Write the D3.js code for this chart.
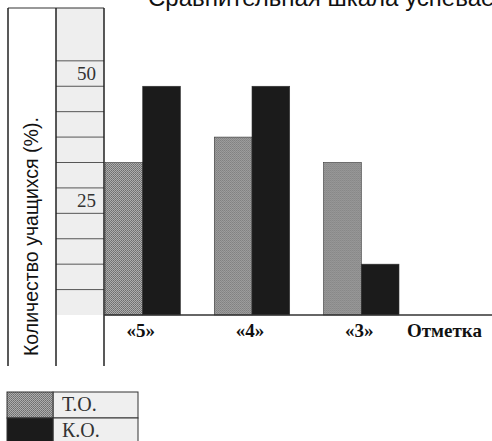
<!DOCTYPE html>
<html>
<head>
<meta charset="utf-8">
<script src="https://cdn.jsdelivr.net/npm/d3@7"></script>
<style>
  body { margin: 0; background: #fff; }
  svg { display: block; }
</style>
</head>
<body>
<svg id="chart" width="492" height="441"></svg>
<script>
// Chart data.
var grades = ["«5»", "«4»", "«3»"];
var series = ["Т.О.", "К.О."];
var valuesTO = [30, 35, 30];
var valuesKO = [45, 45, 10];
var gridSteps = [5, 10, 15, 20, 25, 30, 35, 40, 45, 50];
var tickLabels = [50, 25];

var svg = d3.select("#chart");

// Fill patterns: fine grey stipple for Т.О., near-black for К.О.
var defs = svg.append("defs");
var dots = defs.append("pattern")
    .attr("id", "stipple")
    .attr("width", 2)
    .attr("height", 2)
    .attr("patternUnits", "userSpaceOnUse");
dots.append("rect").attr("width", 2).attr("height", 2).attr("fill", "#adadad");
dots.append("rect").attr("x", 0).attr("y", 0).attr("width", 1).attr("height", 1).attr("fill", "#6e6e6e");
dots.append("rect").attr("x", 1).attr("y", 1).attr("width", 1).attr("height", 1).attr("fill", "#7a7a7a");

var fills = { "Т.О.": "url(#stipple)", "К.О.": "#1b1b1b" };

// Scales.
var y = d3.scaleLinear().domain([0, 60]).range([315, 10]);
var x0 = d3.scaleBand().domain(grades).range([105, 399]).paddingInner(0.31).paddingOuter(0);
var x1 = d3.scaleBand().domain(series).range([0, x0.bandwidth()]);

// Title, mostly cut off by the top edge as in the scan.
svg.append("text")
    .attr("x", 148)
    .attr("y", 6)
    .style("font-family", "Liberation Sans, Arial, sans-serif")
    .style("font-size", "24px")
    .attr("fill", "#111")
    .text("Сравнительная шкала успеваемости");

// Light scale column.
svg.append("rect")
    .attr("x", 56).attr("y", 8)
    .attr("width", 48).attr("height", y(0) - 8)
    .attr("fill", "#eeeeee");

// Grid lines inside the scale column.
svg.append("g").selectAll("line")
    .data(gridSteps)
    .enter()
    .append("line")
    .attr("x1", 56).attr("x2", 104)
    .attr("y1", function(d) { return y(d); })
    .attr("y2", function(d) { return y(d); })
    .attr("stroke", "#555")
    .attr("stroke-width", 1);

// Labels sit in the band just below their value.
svg.append("g").selectAll("text")
    .data(tickLabels)
    .enter()
    .append("text")
    .attr("x", 96)
    .attr("y", function(d) { return (y(d) + y(d - 5)) / 2; })
    .attr("dy", "0.35em")
    .attr("text-anchor", "end")
    .style("font-family", "Liberation Serif, Times New Roman, serif")
    .style("font-size", "19px")
    .attr("fill", "#333")
    .text(function(d) { return d; });

// Frame: top edge and three vertical rules.
svg.append("line")
    .attr("x1", 8).attr("x2", 104).attr("y1", 8).attr("y2", 8)
    .attr("stroke", "#333").attr("stroke-width", 1.2);
svg.append("g").selectAll("line")
    .data([8, 56, 104])
    .enter()
    .append("line")
    .attr("x1", function(d) { return d; })
    .attr("x2", function(d) { return d; })
    .attr("y1", 8).attr("y2", 366)
    .attr("stroke", "#222")
    .attr("stroke-width", 1.5);

// Bars.
var groups = svg.append("g").selectAll("g")
    .data(grades)
    .enter()
    .append("g")
    .attr("transform", function(d) { return "translate(" + x0(d) + ",0)"; });

groups.selectAll("rect")
    .data(function(d, i) {
        return [
            { key: "Т.О.", value: valuesTO[i] },
            { key: "К.О.", value: valuesKO[i] }
        ];
    })
    .enter()
    .append("rect")
    .attr("x", function(d) { return x1(d.key); })
    .attr("y", function(d) { return y(d.value); })
    .attr("width", x1.bandwidth())
    .attr("height", function(d) { return y(0) - y(d.value); })
    .attr("fill", function(d) { return fills[d.key]; })
    .attr("stroke", "#333")
    .attr("stroke-width", 0.6);

// Baseline.
svg.append("line")
    .attr("x1", 104).attr("x2", 492)
    .attr("y1", y(0)).attr("y2", y(0))
    .attr("stroke", "#333")
    .attr("stroke-width", 1.5);

// Category labels.
svg.append("g").selectAll("text")
    .data(grades)
    .enter()
    .append("text")
    .attr("x", function(d) { return x0(d) + x0.bandwidth() / 2 - 2; })
    .attr("y", 337)
    .attr("text-anchor", "middle")
    .style("font-family", "Liberation Serif, Times New Roman, serif")
    .style("font-size", "19px")
    .style("font-weight", "bold")
    .attr("fill", "#111")
    .text(function(d) { return d; });

svg.append("text")
    .attr("x", 407)
    .attr("y", 337)
    .style("font-family", "Liberation Serif, Times New Roman, serif")
    .style("font-size", "19px")
    .style("font-weight", "bold")
    .attr("fill", "#111")
    .text("Отметка");

// Y axis title.
svg.append("text")
    .attr("transform", "translate(38,356) rotate(-90)")
    .style("font-family", "Liberation Sans, Arial, sans-serif")
    .style("font-size", "19.5px")
    .attr("fill", "#111")
    .text("Количество учащихся (%).");

// Legend.
var legend = svg.append("g").attr("transform", "translate(7,392)");
var rowH = 26;
var rows = legend.selectAll("g")
    .data(series)
    .enter()
    .append("g")
    .attr("transform", function(d, i) { return "translate(0," + (i * rowH) + ")"; });
rows.append("rect")
    .attr("x", 46).attr("width", 85).attr("height", rowH)
    .attr("fill", "#efefef")
    .attr("stroke", "#333").attr("stroke-width", 1);
rows.append("rect")
    .attr("width", 46).attr("height", rowH)
    .attr("fill", function(d) { return fills[d]; })
    .attr("stroke", "#333").attr("stroke-width", 1);
rows.append("text")
    .attr("x", 55)
    .attr("y", rowH / 2)
    .attr("dy", "0.3em")
    .style("font-family", "Liberation Serif, Times New Roman, serif")
    .style("font-size", "20px")
    .attr("fill", "#333")
    .text(function(d) { return d; });
</script>
</body>
</html>
